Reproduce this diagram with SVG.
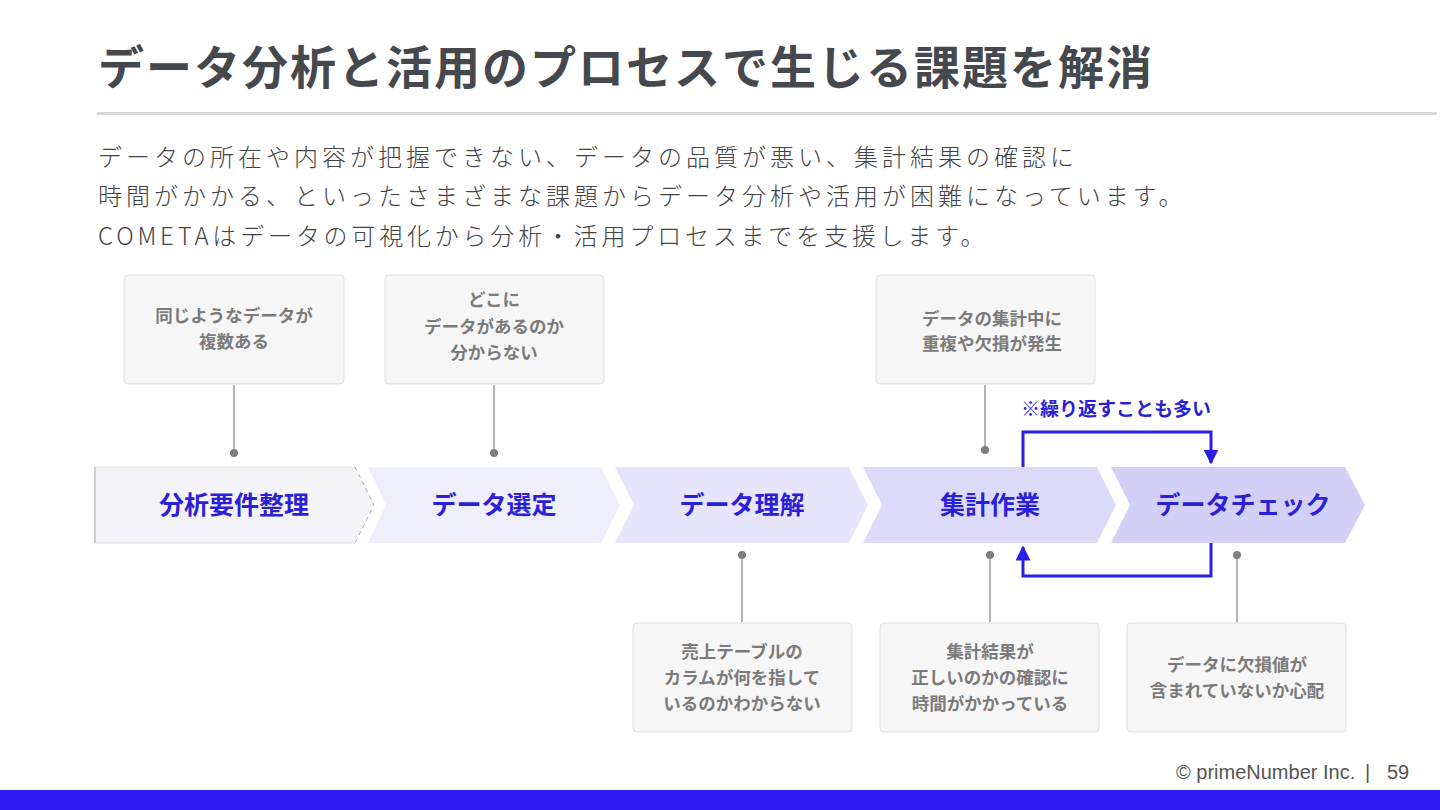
<svg xmlns="http://www.w3.org/2000/svg" width="1440" height="810" viewBox="0 0 1440 810">
<defs>
<style>
.t{font-family:"Noto Sans CJK JP","Noto Sans",sans-serif}
.title{font-size:46px;font-weight:700;fill:#45484d;letter-spacing:2px}
.body{font-size:24px;font-weight:300;fill:#444;letter-spacing:4px}
.box{fill:#f6f6f6;stroke:#e0e0e0;stroke-width:1}
.bt{font-size:17.5px;font-weight:700;fill:#7b7b7b;text-anchor:middle}
.lbl{font-size:25px;font-weight:700;fill:#2b1fd9;text-anchor:middle}
.lead{stroke:#9a9a9a;stroke-width:1.5}
.dot{fill:#7f7f7f}
.loop{fill:none;stroke:#2b1fe6;stroke-width:3}
.foot{font-family:"Liberation Sans",Arial,sans-serif;font-size:20px;fill:#555}
</style>
<marker id="ah" viewBox="0 0 10 10" refX="9" refY="5" markerWidth="5" markerHeight="5" orient="auto" markerUnits="strokeWidth">
<path d="M0,0 L10,5 L0,10 Z" fill="#2b1fe6"/>
</marker>
</defs>
<rect width="1440" height="810" fill="#fff"/>
<text class="t title" x="98" y="84">データ分析と活用のプロセスで生じる課題を解消</text>
<rect x="97" y="112" width="1340" height="3" fill="#d9d9d9"/>
<text class="t body" x="98" y="166">データの所在や内容が把握できない、データの品質が悪い、集計結果の確認に</text>
<text class="t body" x="98" y="205">時間がかかる、といったさまざまな課題からデータ分析や活用が困難になっています。</text>
<text class="t body" x="98" y="245" style="letter-spacing:3.8px">COMETAはデータの可視化から分析・活用プロセスまでを支援します。</text>

<g id="connectors">
<line class="lead" x1="234" y1="385" x2="234" y2="453"/><circle class="dot" cx="234" cy="453" r="4"/>
<line class="lead" x1="494" y1="385" x2="494" y2="453"/><circle class="dot" cx="494" cy="453" r="4"/>
<line class="lead" x1="985" y1="385" x2="985" y2="450"/><circle class="dot" cx="985" cy="450" r="4"/>
<line class="lead" x1="742" y1="555" x2="742" y2="622"/><circle class="dot" cx="742" cy="555" r="4"/>
<line class="lead" x1="990" y1="555" x2="990" y2="622"/><circle class="dot" cx="990" cy="555" r="4"/>
<line class="lead" x1="1237" y1="555" x2="1237" y2="622"/><circle class="dot" cx="1237" cy="555" r="4"/>
<path class="loop" d="M1023,467 V432 H1211 V463" marker-end="url(#ah)"/>
<path class="loop" d="M1211,543 V576 H1023 V547" marker-end="url(#ah)"/>
<text class="t" x="1116" y="416" text-anchor="middle" style="font-size:19px;font-weight:700;fill:#2b1fd9">※繰り返すことも多い</text>
</g>

<g id="step1">
<path d="M95,467 H355 L374,505 L355,543 H95 Z" fill="#f3f3f8"/>
<path d="M355,467 H95 V543 H355" fill="none" stroke="#e3e3ea" stroke-width="1"/>
<line x1="95" y1="467" x2="95" y2="543" stroke="#c4c4c4" stroke-width="1.5"/>
<path d="M355,467 L374,505 L355,543" fill="none" stroke="#aaa" stroke-width="1" stroke-dasharray="4,4"/>
<text class="t lbl" x="234" y="514">分析要件整理</text>
</g>
<g id="step2">
<path d="M368,467 H601 L620,505 L601,543 H368 L386,505 Z" fill="#efeefc"/>
<text class="t lbl" x="494" y="514">データ選定</text>
</g>
<g id="step3">
<path d="M615,467 H849 L868,505 L849,543 H615 L634,505 Z" fill="#e6e5fb"/>
<text class="t lbl" x="742" y="514">データ理解</text>
</g>
<g id="step4">
<path d="M863,467 H1097 L1116,505 L1097,543 H863 L882,505 Z" fill="#dcdaf9"/>
<text class="t lbl" x="990" y="514">集計作業</text>
</g>
<g id="step5">
<path d="M1111,467 H1345 L1365,505 L1345,543 H1111 L1130,505 Z" fill="#d3d0f7"/>
<text class="t lbl" x="1243" y="514">データチェック</text>
</g>

<g id="issue1">
<rect class="box" x="124" y="275" width="220" height="109" rx="4"/>
<text class="t bt" x="234" y="322">同じようなデータが</text>
<text class="t bt" x="234" y="348">複数ある</text>
</g>
<g id="issue2">
<rect class="box" x="385" y="275" width="219" height="109" rx="4"/>
<text class="t bt" x="494" y="306">どこに</text>
<text class="t bt" x="494" y="333">データがあるのか</text>
<text class="t bt" x="494" y="359">分からない</text>
</g>
<g id="issue3">
<rect class="box" x="876" y="275" width="219" height="109" rx="4"/>
<text class="t bt" x="992" y="325">データの集計中に</text>
<text class="t bt" x="992" y="350">重複や欠損が発生</text>
</g>
<g id="issue4">
<rect class="box" x="633" y="623" width="219" height="109" rx="4"/>
<text class="t bt" x="742" y="658">売上テーブルの</text>
<text class="t bt" x="742" y="684">カラムが何を指して</text>
<text class="t bt" x="742" y="710">いるのかわからない</text>
</g>
<g id="issue5">
<rect class="box" x="880" y="623" width="219" height="109" rx="4"/>
<text class="t bt" x="990" y="658">集計結果が</text>
<text class="t bt" x="990" y="684">正しいのかの確認に</text>
<text class="t bt" x="990" y="710">時間がかかっている</text>
</g>
<g id="issue6">
<rect class="box" x="1127" y="623" width="219" height="109" rx="4"/>
<text class="t bt" x="1237" y="671">データに欠損値が</text>
<text class="t bt" x="1237" y="697">含まれていないか心配</text>
</g>

<text class="foot" x="1176" y="779">© primeNumber Inc.</text>
<text class="foot" x="1365" y="779">|</text>
<text class="foot" x="1387" y="779">59</text>
<rect x="0" y="790" width="1440" height="20" fill="#2e1af5"/>
</svg>
